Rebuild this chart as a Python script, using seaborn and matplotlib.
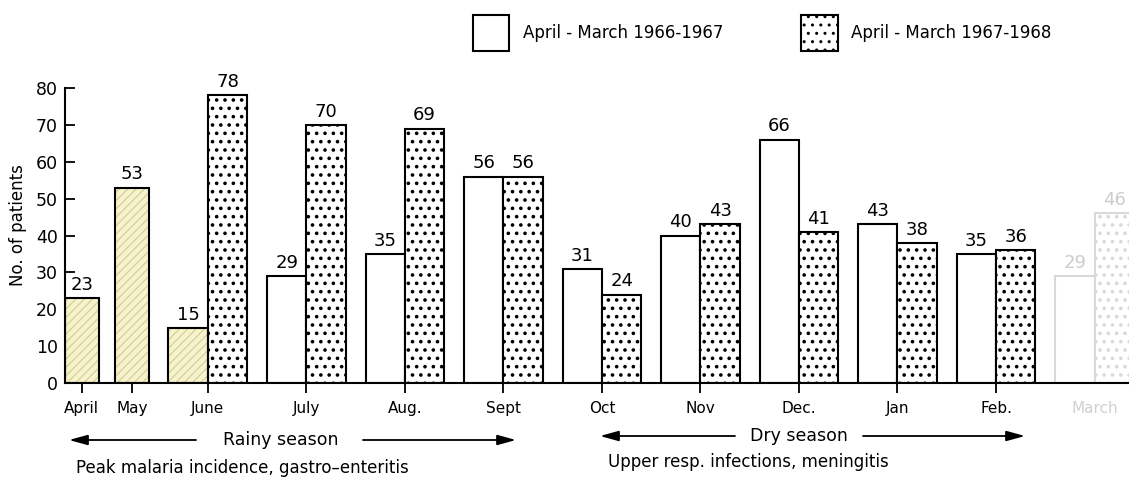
import numpy as np
import pandas as pd
import matplotlib.pyplot as plt
import seaborn as sns
from matplotlib.patches import Patch, Rectangle

# Monthly patient counts, April - March
months = ["April", "May", "June", "July", "Aug", "Sept", "Oct", "Nov", "Dec", "Jan", "Feb", "March"]
tick_labels = ["April", "May", "June", "July", "Aug.", "Sept", "Oct", "Nov", "Dec.", "Jan", "Feb.", "March"]
y66 = [23, 53, 15, 29, 35, 56, 31, 40, 66, 43, 35, 29]
y67 = [np.nan, np.nan, 78, 70, 69, 56, 24, 43, 41, 38, 36, 46]
series = ["April - March 1966-1967", "April - March 1967-1968"]

# layout only: April and May are squeezed in before June
early_pos = [-1.28, -0.77]

sns.set_style('ticks')
plt.rcParams['font.family'] = ['DejaVu Sans']
plt.rcParams['hatch.linewidth'] = 1.0
for k in ['text.color', 'axes.labelcolor', 'xtick.color', 'ytick.color', 'axes.edgecolor']:
    plt.rcParams[k] = 'black'

n_main = len(months) - 2
main = pd.DataFrame({
    'pos': np.tile(np.arange(n_main), 2),
    'year': np.repeat(series, n_main),
    'patients': y66[2:] + y67[2:],
})
early = pd.DataFrame({'pos': early_pos, 'patients': y66[:2]})

fig = plt.figure(figsize=(11.29, 4.78), dpi=100)
ax = fig.add_axes([0.0576, 0.1987, 0.9424, 0.6172])

sns.barplot(data=main, x='pos', y='patients', hue='year', native_scale=True, width=0.8,
            palette=['white', 'white'], saturation=1, edgecolor='black', linewidth=1.5,
            errorbar=None, legend=False, ax=ax)
sns.barplot(data=early, x='pos', y='patients', native_scale=True,
            width=0.34 / np.diff(early_pos)[0], color='white', saturation=1,
            edgecolor='black', linewidth=1.5, errorbar=None, ax=ax)

c66, c67, c_early = ax.containers[0], ax.containers[1], ax.containers[2]

# dotted bars for 1967-68
for p in c67:
    p.set_hatch('..')
    if hasattr(p, 'set_hatch_linewidth'):
        p.set_hatch_linewidth(1.4)

# highlighted (hatched yellow) bars
for p in list(c_early) + [c66[0]]:
    p.set_facecolor('#f6f2cc')
    p.set_edgecolor('#d3cb95')
    p.set_linewidth(0)
    p.set_hatch('////')
    if hasattr(p, 'set_hatch_linewidth'):
        p.set_hatch_linewidth(0.8)
    ax.add_patch(Rectangle(p.get_xy(), p.get_width(), p.get_height(), fill=False,
                           edgecolor='black', linewidth=1.5))

# faded March bars (poor scan)
for p in [c66[-1], c67[-1]]:
    p.set_edgecolor('#d9d9d9')

# value labels
for cont in [c66, c67, c_early]:
    ax.bar_label(cont, fmt='%d', padding=3, fontsize=13)
for t in ax.texts[n_main - 1::n_main][:2]:
    t.set_color('#cccccc')

ax.set_xlim(-1.45, 9.35)
ax.set_ylim(0, 80)
ax.set_yticks(range(0, 81, 10))
ax.set_xticks(early_pos + list(range(n_main)))
ax.set_xticklabels(tick_labels)
ax.get_xticklabels()[-1].set_color('#d0d0d0')
ax.xaxis.get_major_ticks()[-1].tick1line.set_visible(False)
ax.tick_params(axis='y', direction='in', length=7, width=1.3, labelsize=12.5, pad=5)
ax.tick_params(axis='x', direction='out', length=7, width=1.3, labelsize=11, pad=6)
sns.despine(ax=ax)
for s in ['left', 'bottom']:
    ax.spines[s].set_linewidth(1.5)
ax.set_xlabel('')
ax.set_ylabel('No. of patients', fontsize=12)
ax.yaxis.set_label_coords(-0.036, 0.535)

# legend
handles = [Patch(facecolor='white', edgecolor='black', linewidth=1.5),
           Patch(facecolor='white', edgecolor='black', linewidth=1.5, hatch='..')]
fig.legend(handles, series, loc='center', bbox_to_anchor=(0.675, 0.931), ncol=2, frameon=False,
           fontsize=12, handlelength=2.2, handleheight=2.9, handletextpad=0.8, columnspacing=4.7)


# season annotations (pixel positions of the original layout)
def fxy(px, py):
    return (px / 1129, 1 - py / 478)


arrow = dict(arrowstyle='-|>,head_length=0.8,head_width=0.22', color='black', lw=1.3,
             mutation_scale=14, shrinkA=0, shrinkB=0)
for x0, x1, y in [(196, 69, 440), (363, 516, 440), (735, 600, 436), (863, 1025, 436)]:
    ax.annotate('', xy=fxy(x1, y), xytext=fxy(x0, y), xycoords='figure fraction',
                textcoords='figure fraction', arrowprops=arrow, annotation_clip=False)

fig.text(*fxy(281, 440), 'Rainy season', ha='center', va='center', fontsize=12.5)
fig.text(*fxy(799, 436), 'Dry season', ha='center', va='center', fontsize=12.5)
fig.text(*fxy(76, 468), 'Peak malaria incidence, gastro\u2013enteritis', ha='left', va='center', fontsize=12)
fig.text(*fxy(608, 462), 'Upper resp. infections, meningitis', ha='left', va='center', fontsize=12)

fig.savefig('out.png', dpi=100)
